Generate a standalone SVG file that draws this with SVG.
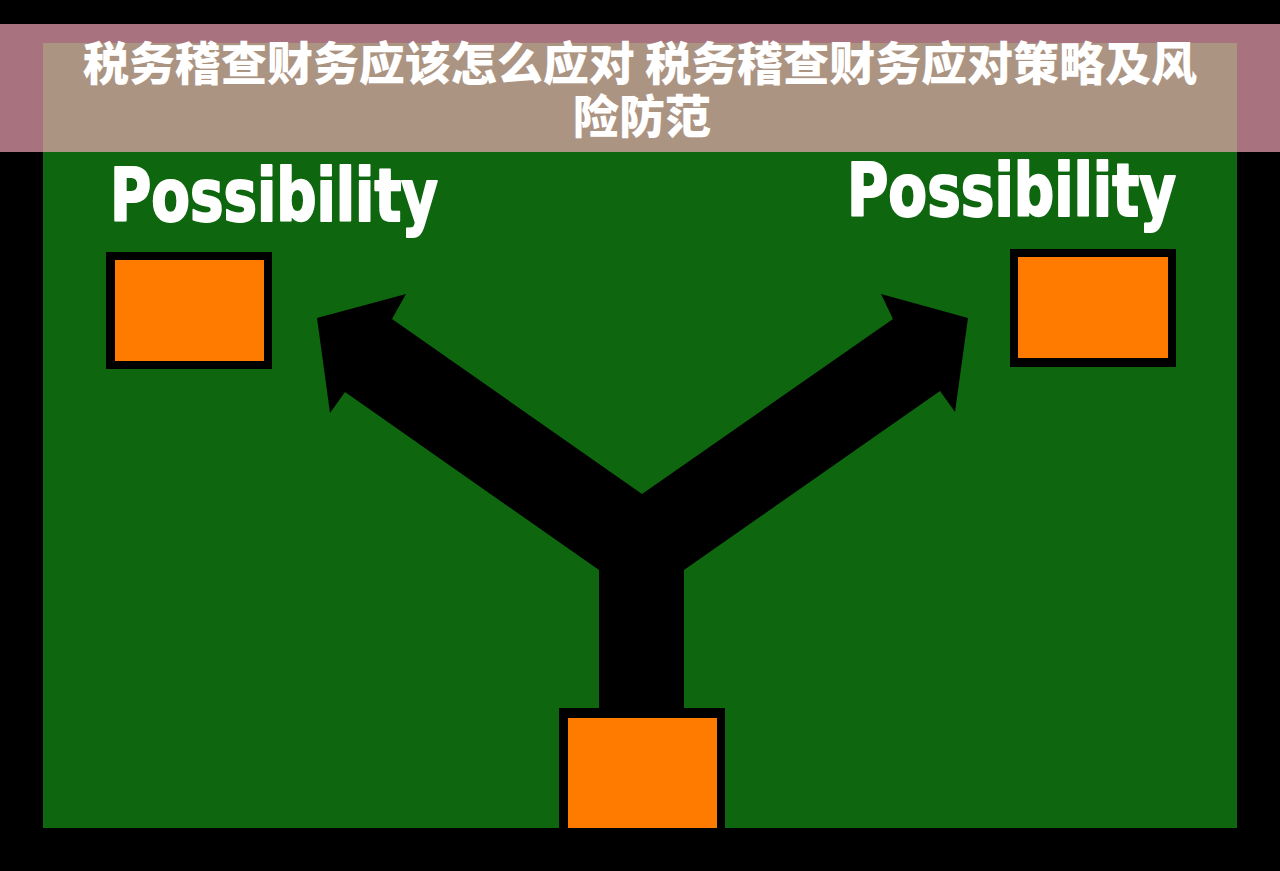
<svg xmlns="http://www.w3.org/2000/svg" width="1280" height="871" viewBox="0 0 1280 871">
  <style>
    .box-outer { fill: #000000; }
    .box-inner { fill: #ff7b00; }
    .label { fill: #ffffff; stroke: #ffffff; stroke-width: 2px; stroke-linejoin: round; font-family: "DejaVu Sans Condensed", "DejaVu Sans", sans-serif; font-weight: bold; font-size: 73px; }
    .title { fill: #ffffff; font-family: "Noto Sans CJK SC", "Noto Sans", sans-serif; font-weight: 900; font-size: 46px; text-anchor: middle; }
  </style>
  <rect x="0" y="0" width="1280" height="871" fill="#000000"/>
  <rect x="43" y="43" width="1194" height="785" fill="#0e660e"/>

  <g id="connectors">
    <polygon fill="#000000" points="642,494 893,319 881,294 968,318 955,412 940,391 684,570 684,712 599,712 599,570 345,392 330,413 317,318 406,294 392,319"/>
  </g>

  <g id="node-left">
    <rect class="box-outer" x="106" y="252" width="166" height="117"/>
    <rect class="box-inner" x="115" y="260" width="149" height="101"/>
    <text class="label" x="110" y="221" textLength="328" lengthAdjust="spacingAndGlyphs">Possibility</text>
  </g>

  <g id="node-right">
    <rect class="box-outer" x="1010" y="249" width="166" height="118"/>
    <rect class="box-inner" x="1018" y="257" width="150" height="101"/>
    <text class="label" x="847" y="216" textLength="329" lengthAdjust="spacingAndGlyphs">Possibility</text>
  </g>

  <g id="node-bottom">
    <rect class="box-outer" x="559" y="708" width="166" height="125"/>
    <rect class="box-inner" x="568" y="718" width="149" height="110"/>
  </g>

  <g id="title">
    <rect x="0" y="24" width="1280" height="128" fill="#faacbe" fill-opacity="0.67"/>
    <text class="title" x="640" y="80" textLength="1114" lengthAdjust="spacingAndGlyphs">税务稽查财务应该怎么应对 税务稽查财务应对策略及风</text>
    <text class="title" x="642" y="133">险防范</text>
  </g>
</svg>
